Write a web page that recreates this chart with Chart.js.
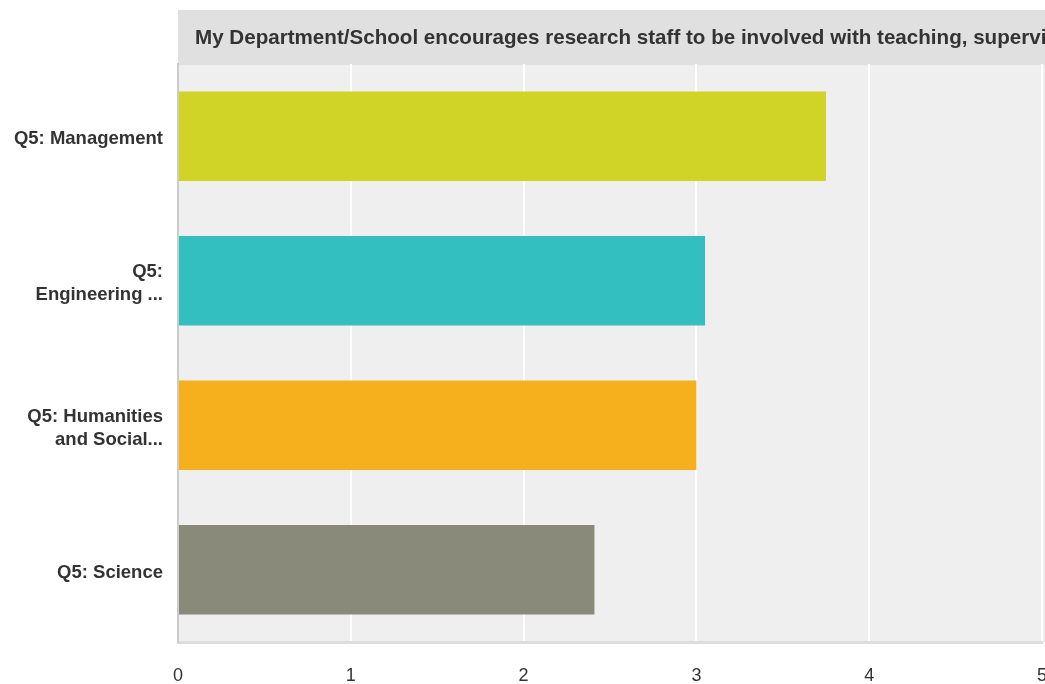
<!DOCTYPE html>
<html>
<head>
<meta charset="utf-8">
<script src="https://cdn.jsdelivr.net/npm/chart.js@4"></script>
<style>
  html, body { margin: 0; padding: 0; background: #fff; overflow: hidden; }
  #wrap { width: 1070px; height: 684px; position: relative; }
</style>
</head>
<body>
<div id="wrap"><canvas id="chart"></canvas></div>
<script>
// Data
const categories = ['Q5: Management', ['Q5:', 'Engineering ...'], ['Q5: Humanities', 'and Social...'], 'Q5: Science'];
const values = [3.75, 3.05, 3.0, 2.41];
const barColors = ['#cfd427', '#33bec0', '#f6b01e', '#898a79'];
const xTicks = [0, 1, 2, 3, 4, 5];
const titleText = 'My Department/School encourages research staff to be involved with teaching, supervision';

const fontFamily = '"Liberation Sans", Arial, Helvetica, sans-serif';

// grey plot background + title bar
const backdrop = {
    id: 'backdrop',
    beforeDraw(chart) {
        const { ctx, chartArea } = chart;
        ctx.save();
        ctx.fillStyle = '#efefef';
        ctx.fillRect(chartArea.left, chartArea.top, chart.width - chartArea.left, chartArea.bottom - chartArea.top);
        ctx.fillStyle = '#e0e0e0';
        ctx.fillRect(chartArea.left, 10, chart.width - chartArea.left, 55);
        ctx.fillStyle = '#333';
        ctx.font = 'bold 20.6px ' + fontFamily;
        ctx.textBaseline = 'middle';
        ctx.fillText(titleText, chartArea.left + 17, 38);
        ctx.restore();
    }
};

new Chart(document.getElementById('chart'), {
    type: 'bar',
    data: {
        labels: categories,
        datasets: [{
            data: values,
            backgroundColor: barColors,
            categoryPercentage: 1,
            barPercentage: 0.62
        }]
    },
    options: {
        indexAxis: 'y',
        responsive: true,
        maintainAspectRatio: false,
        animation: false,
        layout: { padding: { top: 64, right: 27, left: 0, bottom: 0 } },
        plugins: {
            legend: { display: false },
            tooltip: { enabled: false }
        },
        scales: {
            x: {
                min: 0,
                max: 5,
                afterBuildTicks(scale) { scale.ticks = xTicks.map(v => ({ value: v })); },
                afterFit(scale) { scale.height = 42; },
                grid: { color: '#ffffff', lineWidth: 2, drawTicks: false },
                border: { display: true, color: '#dddddd', width: 3 },
                ticks: { color: '#333', padding: 23, font: { family: fontFamily, size: 18 } }
            },
            y: {
                afterFit(scale) { scale.width = 178; },
                grid: { display: false, drawTicks: false },
                border: { display: true, color: '#cccccc', width: 2 },
                ticks: { color: '#333', padding: 15, labelOffset: 3, font: { family: fontFamily, size: 18.5, weight: 'bold', lineHeight: 1.25 } }
            }
        }
    },
    plugins: [backdrop]
});
</script>
</body>
</html>
